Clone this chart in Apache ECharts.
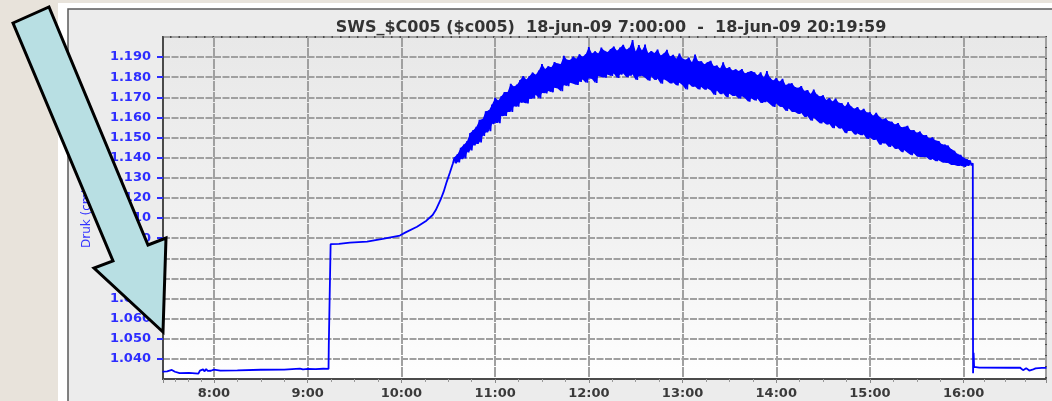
<!DOCTYPE html>
<html>
<head>
<meta charset="utf-8">
<title>SWS_$C005</title>
<script src="https://cdn.jsdelivr.net/npm/echarts@6/dist/echarts.min.js"></script>
<style>
  html, body { margin: 0; padding: 0; background: #e8e3db; }
  #chart { width: 1052px; height: 401px; }
</style>
</head>
<body>
<div id="chart"></div>
<script>
// Pressure log, 18-jun-09
const morningTimes = ['7:27', '7:30', '7:33', '7:35', '7:38', '7:44', '7:50', '7:51', '7:52', '7:53', '7:54', '7:55',
  '7:56', '7:57', '7:58', '8:00', '8:04', '8:15', '8:30', '8:45', '8:55', '8:57', '9:00', '9:05', '9:10', '9:13:20',
  '9:13:30', '9:14:30', '9:14:40', '9:20', '9:27', '9:38', '9:48', '9:59', '10:03', '10:10', '10:16', '10:20',
  '10:22', '10:25', '10:27', '10:29', '10:31', '10:33'];
const morningValues = [1.0337, 1.0338, 1.0345, 1.0336, 1.0329, 1.0330, 1.0327, 1.0342, 1.0336, 1.0348, 1.0338, 1.0350,
  1.0340, 1.0349, 1.0341, 1.0347, 1.0342, 1.0343, 1.0346, 1.0347, 1.0352, 1.0348, 1.0350, 1.0349, 1.0351, 1.0350,
  1.0468, 1.0470, 1.0970, 1.0972, 1.0978, 1.0983, 1.0996, 1.1013, 1.1030, 1.1057, 1.1087, 1.1115,
  1.1140, 1.1190, 1.1230, 1.1280, 1.1325, 1.1372];

// noisy part: top and bottom of the band every 2 minutes from 10:34 to 16:04
const bandStart = '10:34';
const bandUpper = [
  1.1403, 1.1418, 1.1449, 1.1465, 1.1482, 1.1523, 1.1537, 1.1554, 1.1588, 1.1592,
  1.1631, 1.1635, 1.1664, 1.1698, 1.1684, 1.1706, 1.1726, 1.1726, 1.1767, 1.1754,
  1.1763, 1.1786, 1.1806, 1.1789, 1.1806, 1.1823, 1.1812, 1.1833, 1.1866, 1.1841,
  1.1854, 1.1850, 1.1875, 1.1868, 1.1866, 1.1907, 1.1887, 1.1886, 1.1903, 1.1892,
  1.1914, 1.1902, 1.1914, 1.1950, 1.1918, 1.1929, 1.1918, 1.1947, 1.1932, 1.1925,
  1.1940, 1.1953, 1.1932, 1.1947, 1.1961, 1.1937, 1.1946, 1.1985, 1.1928, 1.1960,
  1.1933, 1.1963, 1.1920, 1.1930, 1.1920, 1.1938, 1.1908, 1.1918, 1.1937, 1.1903,
  1.1912, 1.1892, 1.1918, 1.1893, 1.1887, 1.1898, 1.1875, 1.1913, 1.1879, 1.1879,
  1.1864, 1.1874, 1.1882, 1.1856, 1.1858, 1.1843, 1.1874, 1.1844, 1.1850, 1.1833,
  1.1840, 1.1831, 1.1841, 1.1819, 1.1826, 1.1831, 1.1824, 1.1810, 1.1824, 1.1799,
  1.1831, 1.1797, 1.1784, 1.1796, 1.1778, 1.1792, 1.1761, 1.1768, 1.1770, 1.1751,
  1.1747, 1.1756, 1.1732, 1.1736, 1.1717, 1.1739, 1.1714, 1.1704, 1.1710, 1.1687,
  1.1697, 1.1679, 1.1694, 1.1673, 1.1671, 1.1654, 1.1675, 1.1654, 1.1643, 1.1652,
  1.1634, 1.1643, 1.1625, 1.1626, 1.1608, 1.1623, 1.1603, 1.1590, 1.1596, 1.1581,
  1.1579, 1.1565, 1.1572, 1.1552, 1.1553, 1.1559, 1.1537, 1.1538, 1.1524, 1.1530,
  1.1513, 1.1512, 1.1496, 1.1501, 1.1485, 1.1483, 1.1467, 1.1465, 1.1460, 1.1443,
  1.1434, 1.1419, 1.1414, 1.1400, 1.1392, 1.1386
];
const bandLower = [
  1.1372, 1.1377, 1.1393, 1.1397, 1.1426, 1.1436, 1.1461, 1.1468, 1.1476, 1.1508,
  1.1525, 1.1532, 1.1567, 1.1574, 1.1572, 1.1607, 1.1607, 1.1627, 1.1628, 1.1656,
  1.1653, 1.1674, 1.1675, 1.1670, 1.1693, 1.1694, 1.1713, 1.1694, 1.1722, 1.1720,
  1.1732, 1.1725, 1.1748, 1.1744, 1.1730, 1.1761, 1.1756, 1.1772, 1.1768, 1.1762,
  1.1777, 1.1789, 1.1773, 1.1795, 1.1791, 1.1771, 1.1806, 1.1801, 1.1798, 1.1813,
  1.1806, 1.1818, 1.1796, 1.1813, 1.1819, 1.1800, 1.1808, 1.1813, 1.1786, 1.1805,
  1.1807, 1.1797, 1.1783, 1.1804, 1.1786, 1.1793, 1.1768, 1.1790, 1.1781, 1.1769,
  1.1774, 1.1759, 1.1773, 1.1760, 1.1739, 1.1767, 1.1753, 1.1754, 1.1739, 1.1751,
  1.1738, 1.1744, 1.1734, 1.1712, 1.1734, 1.1716, 1.1720, 1.1701, 1.1718, 1.1707,
  1.1708, 1.1693, 1.1706, 1.1695, 1.1678, 1.1695, 1.1684, 1.1693, 1.1672, 1.1676,
  1.1680, 1.1666, 1.1652, 1.1670, 1.1654, 1.1652, 1.1632, 1.1644, 1.1627, 1.1627,
  1.1617, 1.1622, 1.1602, 1.1606, 1.1584, 1.1598, 1.1584, 1.1570, 1.1578, 1.1565,
  1.1567, 1.1547, 1.1560, 1.1545, 1.1547, 1.1522, 1.1533, 1.1534, 1.1515, 1.1520,
  1.1512, 1.1515, 1.1493, 1.1500, 1.1488, 1.1491, 1.1465, 1.1472, 1.1470, 1.1453,
  1.1461, 1.1443, 1.1446, 1.1428, 1.1437, 1.1425, 1.1413, 1.1422, 1.1406, 1.1404,
  1.1403, 1.1404, 1.1390, 1.1393, 1.1383, 1.1387, 1.1377, 1.1375, 1.1374, 1.1364,
  1.1364, 1.1359, 1.1360, 1.1355, 1.1360, 1.1362
];

const tailTimes = ['16:05:50', '16:06:00', '16:06:20', '16:06:40', '16:10', '16:30', '16:36', '16:38', '16:40',
  '16:42', '16:44', '16:46', '16:50', '16:53'];
const tailValues = [1.1372, 1.0329, 1.0430, 1.0360, 1.0357, 1.0356, 1.0357, 1.0344, 1.0354,
  1.0342, 1.0346, 1.0353, 1.0355, 1.0355];

const yTicks = { min: 1.03, max: 1.2, step: 0.01 };
const titleText = 'SWS_$C005 ($c005)  18-jun-09 7:00:00  -  18-jun-09 20:19:59';

function at(hms) {
  const p = hms.split(':').map(Number);
  return new Date(2009, 5, 18, p[0], p[1], p[2] || 0).getTime();
}

const MIN = 60 * 1000;
const t0 = at(bandStart);

// the measured line: quiet parts plus the band as a zigzag between its top and bottom
const data = [];
morningTimes.forEach((t, i) => data.push([at(t), morningValues[i]]));
bandUpper.forEach((v, i) => {
  data.push([t0 + i * 2 * MIN, v]);
  data.push([t0 + i * 2 * MIN + MIN, bandLower[i]]);
});
tailTimes.forEach((t, i) => data.push([at(t), tailValues[i]]));

// solid core of the band (stacked: bottom + height)
const bandBase = bandLower.map((v, i) => [t0 + i * 2 * MIN, v]);
const bandHeight = bandUpper.map((v, i) => [t0 + i * 2 * MIN, v - bandLower[i]]);

const chart = echarts.init(document.getElementById('chart'), null, { renderer: 'canvas' });

const gridColor = '#a0a0a0';
const blue = '#0000ff';

chart.setOption({
  animation: false,
  backgroundColor: 'transparent',
  title: {
    text: titleText,
    left: 606,
    top: 15,
    textAlign: 'center',
    textStyle: { fontFamily: 'DejaVu Sans', fontSize: 16, fontWeight: 'bold', color: '#333' }
  },
  grid: {
    left: 163, top: 37, width: 883, height: 342,
    show: true,
    borderColor: '#4a4a4a',
    borderWidth: 2,
    backgroundColor: {
      type: 'linear', x: 0, y: 0, x2: 0, y2: 1,
      colorStops: [{ offset: 0, color: '#e8e8e8' }, { offset: 0.6, color: '#f2f2f2' }, { offset: 1, color: '#ffffff' }]
    }
  },
  xAxis: {
    type: 'time',
    min: at('7:27:21'),
    max: at('16:52:42'),
    minInterval: 3600 * 1000,
    maxInterval: 3600 * 1000,
    axisLine: { show: true, lineStyle: { color: '#4a4a4a', width: 2 } },
    axisTick: { show: true, length: 4, lineStyle: { color: '#888' } },
    minorTick: { show: true, splitNumber: 4, length: 3, lineStyle: { color: '#999' } },
    axisLabel: {
      formatter: '{H}:{mm}',
      margin: 8,
      color: '#3a3a3a',
      fontFamily: 'DejaVu Sans',
      fontSize: 13,
      fontWeight: 'bold'
    },
    splitLine: { show: true, lineStyle: { color: gridColor, width: 2, type: [10, 1] } }
  },
  yAxis: {
    type: 'value',
    min: yTicks.min,
    max: yTicks.max,
    interval: yTicks.step,
    name: 'Druk (cmWK)',
    nameLocation: 'middle',
    nameRotate: 90,
    nameGap: 70,
    nameTextStyle: { color: '#3434ff', fontFamily: 'DejaVu Sans', fontSize: 12 },
    axisLine: { show: true, lineStyle: { color: '#4a4a4a', width: 2 } },
    axisTick: { show: true, length: 6, lineStyle: { color: '#2d2dff', width: 2 } },
    axisLabel: {
      showMinLabel: false,
      showMaxLabel: false,
      margin: 12,
      color: '#2d2dff',
      fontFamily: 'DejaVu Sans',
      fontSize: 13,
      fontWeight: 'bold',
      formatter: v => v.toFixed(3)
    },
    splitLine: { show: true, lineStyle: { color: gridColor, width: 2, type: [7, 1.5] } }
  },
  graphic: {
    elements: [
      { type: 'rect', z: -10, silent: true, shape: { x: 58, y: 3, width: 1000, height: 400 }, style: { fill: '#ffffff' } },
      { type: 'rect', z: -9, silent: true, shape: { x: 68, y: 9, width: 990, height: 400 },
        style: { fill: '#ececec', stroke: '#5a5a5a', lineWidth: 1.5 } },
      // the pointer arrow drawn over the chart
      { type: 'polygon', z: 100, silent: true,
        shape: { points: [[13, 23], [49, 7], [148, 245], [166, 238], [163, 332], [94, 268], [113, 261]] },
        style: { fill: '#b8dfe3', stroke: '#000', lineWidth: 3, lineJoin: 'miter' } }
    ]
  },
  series: [
    {
      name: 'bandBase',
      type: 'line',
      stack: 'band',
      data: bandBase,
      symbol: 'none',
      silent: true,
      lineStyle: { opacity: 0 }
    },
    {
      name: 'bandCore',
      type: 'line',
      stack: 'band',
      data: bandHeight,
      symbol: 'none',
      silent: true,
      lineStyle: { opacity: 0 },
      areaStyle: { color: blue, opacity: 1 }
    },
    {
      name: 'SWS_$C005',
      type: 'line',
      data: data,
      symbol: 'none',
      clip: true,
      lineStyle: { color: blue, width: 1.8 },
      itemStyle: { color: blue },
      z: 3
    }
  ]
});

window.addEventListener('resize', () => chart.resize());
</script>
</body>
</html>
